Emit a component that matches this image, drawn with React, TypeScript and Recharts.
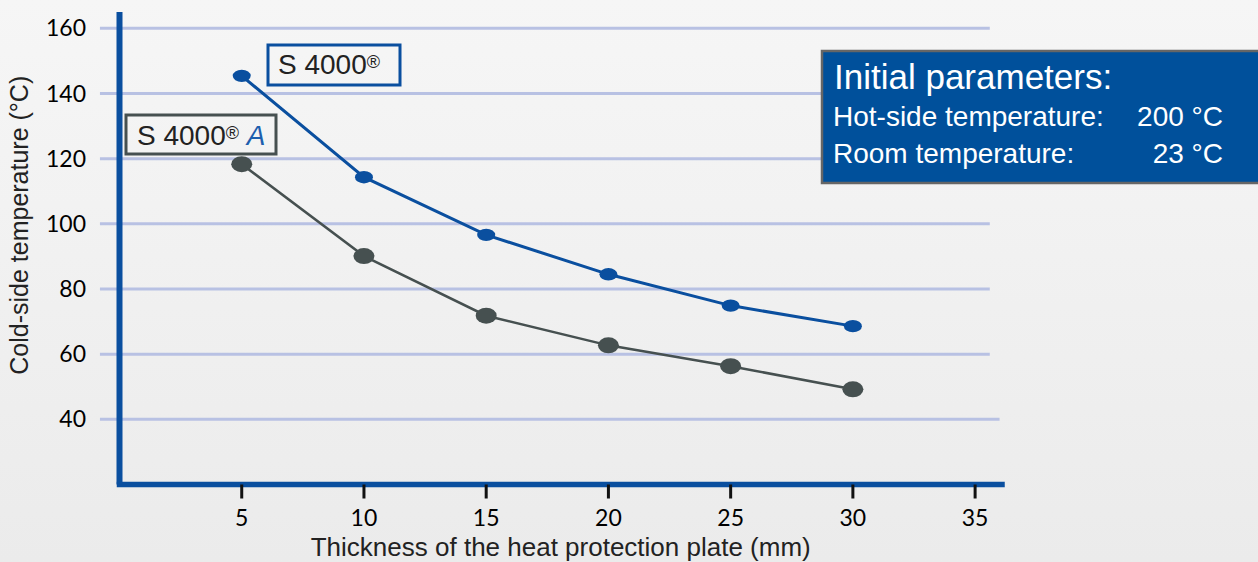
import React from 'react';
import { LineChart, Line, XAxis, YAxis, ReferenceLine } from 'recharts';

const thickness = [5, 10, 15, 20, 25, 30];
const s4000 = [145.4, 114.3, 96.6, 84.5, 74.9, 68.6];
const s4000A = [118.3, 90.1, 71.8, 62.7, 56.3, 49.2];
const xTicks = [5, 10, 15, 20, 25, 30, 35];
const yTicks = [40, 60, 80, 100, 120, 140, 160];
const xTitle = 'Thickness of the heat protection plate (mm)';
const yTitle = 'Cold-side temperature (°C)';
const paramTitle = 'Initial parameters:';
const paramRows = [
  { name: 'Hot-side temperature:', value: '200 °C' },
  { name: 'Room temperature:', value: '23 °C' },
];

const data = thickness.map((t, i) => ({ t, s4000: s4000[i], s4000A: s4000A[i] }));

const BLUE = '#0a4f9f';
const GRAY = '#465050';
const GRID = '#b8c1e3';
const SANS = '"Liberation Sans", Arial, sans-serif';
const TICKFONT = { fontFamily: 'Lato, sans-serif', fontSize: 23, fill: '#000' };

const makeDot = (rx: number, ry: number, fill: string) => (props: any) => {
  const { cx, cy, index } = props;
  if (cx == null || cy == null) return <g key={`d-${index}`} />;
  return <ellipse key={`d-${index}`} cx={cx} cy={cy} rx={rx} ry={ry} fill={fill} />;
};

const YTitle = (props: any) => {
  const vb = props.viewBox || {};
  const x = vb.x + 28;
  const y = vb.y + vb.height / 2 - 23;
  return (
    <text
      x={x}
      y={y}
      transform={`rotate(-90, ${x}, ${y})`}
      textAnchor="middle"
      fontFamily={SANS}
      fontSize={25}
      fill="#222"
    >
      {yTitle}
    </text>
  );
};

export default function App() {
  return (
    <div
      style={{
        position: 'absolute',
        left: 0,
        top: 0,
        width: 1258,
        height: 562,
        background: 'linear-gradient(#f6f6f6, #ebebeb)',
        overflow: 'hidden',
      }}
    >
      <LineChart
        width={1258}
        height={562}
        data={data}
        margin={{ top: 12, right: 256, left: 0, bottom: 0 }}
      >
        {yTicks.map((v) => (
          <ReferenceLine
            key={v}
            segment={[
              { x: -0.8, y: v },
              { x: v === 40 ? 36 : 35.6, y: v },
            ]}
            stroke={GRID}
            strokeWidth={3}
            ifOverflow="visible"
          />
        ))}
        <XAxis
          dataKey="t"
          type="number"
          domain={[0, 36.1]}
          ticks={xTicks}
          allowDataOverflow
          height={77.5}
          axisLine={{ stroke: BLUE, strokeWidth: 5.5, strokeLinecap: 'square' }}
          tickLine={{ stroke: '#111', strokeWidth: 3 }}
          tickSize={14}
          tickMargin={11}
          tick={TICKFONT}
          label={{
            value: xTitle,
            position: 'insideBottom',
            offset: 6,
            fontFamily: SANS,
            fontSize: 26,
            fill: '#222',
          }}
        />
        <YAxis
          type="number"
          domain={[20, 165]}
          ticks={yTicks}
          allowDataOverflow
          width={119.5}
          axisLine={{ stroke: BLUE, strokeWidth: 6, strokeLinecap: 'butt' }}
          tickLine={false}
          tickSize={0}
          tickMargin={33.5}
          tick={TICKFONT}
          label={{ content: <YTitle /> }}
        />
        <Line
          dataKey="s4000A"
          stroke={GRAY}
          strokeWidth={2.5}
          dot={makeDot(10.5, 8, GRAY)}
          activeDot={false}
          isAnimationActive={false}
        />
        <Line
          dataKey="s4000"
          stroke={BLUE}
          strokeWidth={3}
          dot={makeDot(9, 6.2, BLUE)}
          activeDot={false}
          isAnimationActive={false}
        />
      </LineChart>
      <svg
        width={1258}
        height={562}
        style={{ position: 'absolute', left: 0, top: 0, pointerEvents: 'none' }}
      >
        <rect x={268} y={45} width={132} height={40} fill="none" stroke={BLUE} strokeWidth={3} />
        <text x={278} y={74} fontFamily={SANS} fontSize={28} fill="#222">
          S 4000
          <tspan fontSize={18} dy={-6}>®</tspan>
        </text>
        <rect x={126} y={115} width={150} height={39} fill="none" stroke={GRAY} strokeWidth={3} />
        <text x={137} y={145} fontFamily={SANS} fontSize={28} fill="#222">
          S 4000
          <tspan fontSize={18} dy={-6}>®</tspan>
          <tspan dy={6}> </tspan>
          <tspan fontStyle="italic" fill="#1d5fae">A</tspan>
        </text>

        <rect x={822} y={51} width={450} height={132} fill="#00509b" stroke="#666" strokeWidth={2.5} />
        <text x={834} y={89} fontFamily={SANS} fontSize={35} fill="#fff">
          {paramTitle}
        </text>
        {paramRows.map((r, i) => (
          <g key={r.name}>
            <text x={833} y={126 + i * 37} fontFamily={SANS} fontSize={28} fill="#fff">
              {r.name}
            </text>
            <text x={1223} y={126 + i * 37} textAnchor="end" fontFamily={SANS} fontSize={28} fill="#fff">
              {r.value}
            </text>
          </g>
        ))}
      </svg>
    </div>
  );
}
